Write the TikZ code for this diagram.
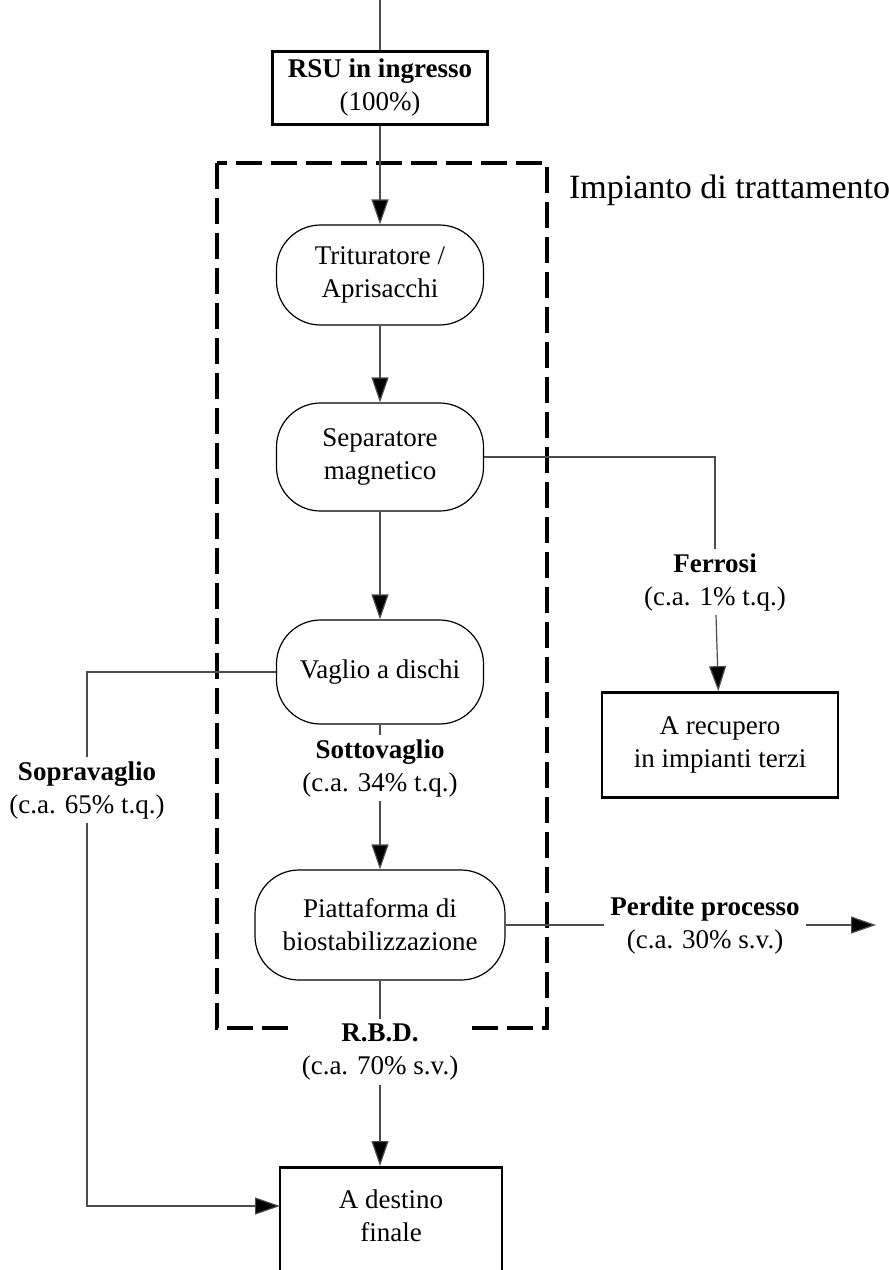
\documentclass[tikz,border=0pt]{standalone}
\usepackage{fontspec}
\setmainfont{Liberation Serif}
\usetikzlibrary{arrows.meta}

\begin{document}
\begin{tikzpicture}[x=0.5pt,y=-0.5pt,
  font=\fontsize{13.5}{16.5}\selectfont,
  every node/.style={align=center},
  proc/.style={draw,line width=0.6pt,rounded corners=22pt,minimum width=103.5pt,minimum height=50pt,inner sep=0pt},
  outbox/.style={draw,line width=1.4pt,inner sep=0pt},
  tag/.style={fill=white,inner xsep=3pt,inner ysep=2pt},
  areabox/.style={line width=2.2pt,dash pattern=on 13pt off 4.5pt},
  link/.style={draw=black!70,line width=0.6pt},
  flow/.style={link,-{Triangle[length=12.5pt,width=8.5pt,fill=black]}}]
  \useasboundingbox (0,0) rectangle (889,1270);
  \clip (0,0) rectangle (889,1270);

  % area of the plant
  \draw[areabox] (217,163) rectangle (547,1028);
  \node[anchor=west,font=\fontsize{17}{20}\selectfont] (impianto) at (562,190) {Impianto di trattamento};

  \coordinate (ingresso) at (380,0);
  \node[outbox,minimum width=107.5pt,minimum height=36.5pt] (rsu) at (380,88) {\textbf{RSU in ingresso}\\(100\%)};

  \node[proc] (trit) at (380,275) {Trituratore /\\Aprisacchi};
  \node[proc,minimum height=54pt] (sep) at (380,457) {Separatore\\magnetico};
  \node[proc,minimum height=52pt] (vaglio) at (380,672) {Vaglio a dischi};
  \node[proc,minimum width=125pt,minimum height=55pt] (piatt) at (380,925) {Piattaforma di\\biostabilizzazione};

  \node[tag] (sotto) at (380,768) {\textbf{Sottovaglio}\\(c.a. 34\% t.q.)};
  \node[tag] (sopra) at (87,790) {\textbf{Sopravaglio}\\(c.a. 65\% t.q.)};
  \node[tag] (ferrosi) at (715,582) {\textbf{Ferrosi}\\(c.a. 1\% t.q.)};
  \node[tag] (perdite) at (705,925) {\textbf{Perdite processo}\\(c.a. 30\% s.v.)};
  \coordinate (fuori) at (876,925);
  \node[tag,inner xsep=7pt] (rbd) at (380,1052) {\textbf{R.B.D.}\\(c.a. 70\% s.v.)};

  \node[outbox,minimum width=118pt,minimum height=52.5pt] (recupero) at (720,745) {A recupero\\in impianti terzi};
  \node[outbox,anchor=north,minimum width=111pt,minimum height=65pt] (destino) at (391,1166) {};
  \node (destinotxt) at (391,1216) {A destino\\finale};
  \coordinate (arrivo) at (280,1206);

  \draw[link] (ingresso) -- (rsu);
  \draw[flow] (rsu) -- (trit);
  \draw[flow] (trit) -- (sep);
  \draw[flow] (sep) -- (vaglio);
  \draw[link] (vaglio) -- (sotto);
  \draw[flow] (sotto) -- (piatt);
  \draw[link] (piatt) -- (rbd);
  \draw[flow] (rbd) -- (rbd |- destino.north);
  \draw[link] (sep) -| (ferrosi);
  \draw[flow] (ferrosi) -- (recupero);
  \draw[link] (vaglio) -| (sopra);
  \draw[flow] (sopra) |- (arrivo);
  \draw[link] (piatt) -- (perdite);
  \draw[flow] (perdite) -- (fuori);
\end{tikzpicture}
\end{document}
